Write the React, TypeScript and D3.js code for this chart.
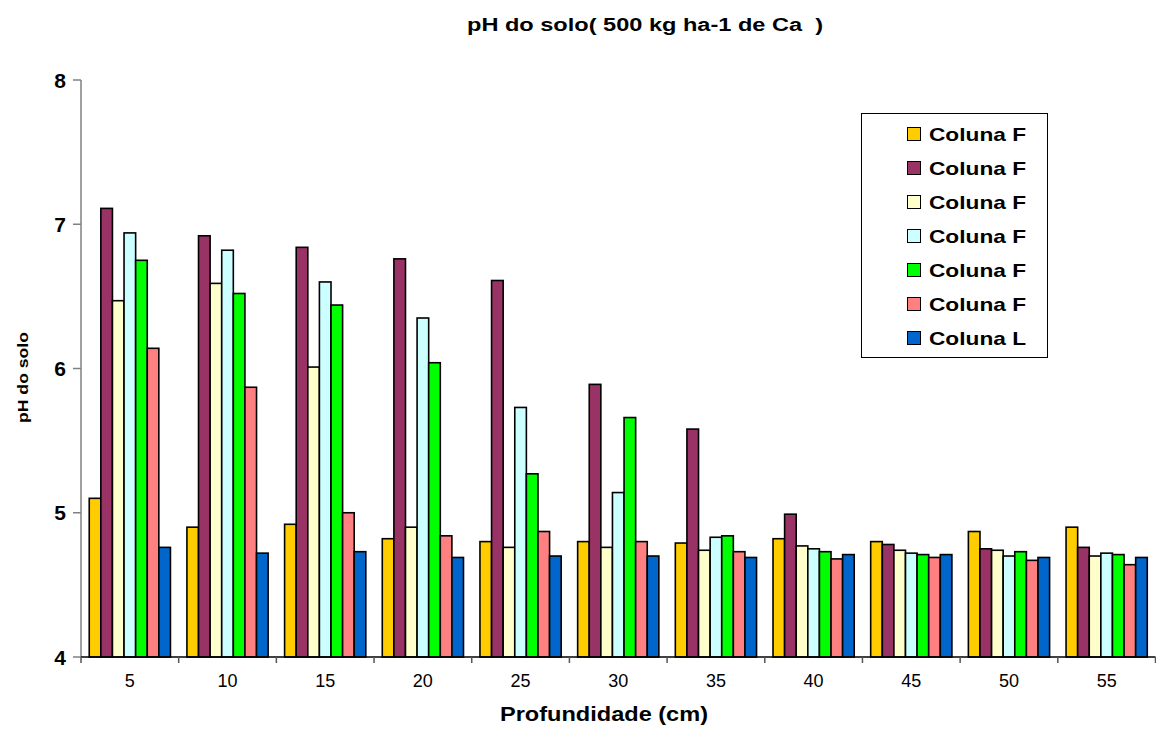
import React from "react";
import * as d3 from "d3";

const categories = ["5", "10", "15", "20", "25", "30", "35", "40", "45", "50", "55"];
const seriesNames = ["Coluna F", "Coluna F", "Coluna F", "Coluna F", "Coluna F", "Coluna F", "Coluna L"];
const seriesColors = ["#FFCC00", "#993366", "#FFFFCC", "#CCFFFF", "#00FF00", "#FF8080", "#0066CC"];

const s1 = [5.10, 4.90, 4.92, 4.82, 4.80, 4.80, 4.79, 4.82, 4.80, 4.87, 4.90];
const s2 = [7.11, 6.92, 6.84, 6.76, 6.61, 5.89, 5.58, 4.99, 4.78, 4.75, 4.76];
const s3 = [6.47, 6.59, 6.01, 4.90, 4.76, 4.76, 4.74, 4.77, 4.74, 4.74, 4.70];
const s4 = [6.94, 6.82, 6.60, 6.35, 5.73, 5.14, 4.83, 4.75, 4.72, 4.70, 4.72];
const s5 = [6.75, 6.52, 6.44, 6.04, 5.27, 5.66, 4.84, 4.73, 4.71, 4.73, 4.71];
const s6 = [6.14, 5.87, 5.00, 4.84, 4.87, 4.80, 4.73, 4.68, 4.69, 4.67, 4.64];
const s7 = [4.76, 4.72, 4.73, 4.69, 4.70, 4.70, 4.69, 4.71, 4.71, 4.69, 4.69];
const seriesValues = [s1, s2, s3, s4, s5, s6, s7];

const yTicks = [4, 5, 6, 7, 8];

const W = 1156;
const H = 730;
const plotLeft = 81;
const plotRight = 1155.5;
const plotTop = 80;
const plotBottom = 657;

export default function App() {
  const x0 = d3.scaleBand<string>().domain(categories).range([plotLeft, plotRight]).padding(0);
  const x1 = d3
    .scaleBand<number>()
    .domain(d3.range(seriesValues.length))
    .range([0, x0.bandwidth()])
    .paddingInner(0)
    .paddingOuter(0.71);
  const y = d3.scaleLinear().domain([4, 8]).range([plotBottom, plotTop]);
  const font = "Arial, 'Liberation Sans', sans-serif";
  const tickBoundaries = d3.range(categories.length + 1).map((i) => plotLeft + i * x0.step());

  return (
    <svg
      width={W}
      height={H}
      style={{ position: "absolute", left: 0, top: 0, background: "#fff" }}
      fontFamily={font}
    >
      <rect x={0} y={0} width={W} height={H} fill="#fff" />
      {/* title */}
      <text
        x={645}
        y={31}
        textAnchor="middle"
        fontSize={18}
        fontWeight="bold"
        textLength={356}
        lengthAdjust="spacingAndGlyphs"
        style={{ whiteSpace: "pre" }}
      >
        {"pH do solo( 500 kg ha-1 de Ca  )"}
      </text>

      {/* bars */}
      {seriesValues.map((vals, si) =>
        vals.map((v, ci) => (
          <rect
            key={`${si}-${ci}`}
            x={(x0(categories[ci]) as number) + (x1(si) as number)}
            y={y(v)}
            width={x1.bandwidth()}
            height={plotBottom - y(v)}
            fill={seriesColors[si]}
            stroke="#000"
            strokeWidth={1.6}
          />
        ))
      )}

      {/* y axis */}
      <line x1={plotLeft} x2={plotLeft} y1={plotTop} y2={plotBottom} stroke="#808080" strokeWidth={1.5} />
      {yTicks.map((t) => (
        <g key={t}>
          <line x1={plotLeft - 8} x2={plotLeft} y1={y(t)} y2={y(t)} stroke="#808080" strokeWidth={1.5} />
          <text x={66} y={y(t) + 7.5} textAnchor="end" fontSize={21} fontWeight="bold">
            {t}
          </text>
        </g>
      ))}

      {/* x axis */}
      <line x1={plotLeft} x2={plotRight} y1={plotBottom} y2={plotBottom} stroke="#000" strokeWidth={1.5} />
      {tickBoundaries.map((bx, i) => (
        <line key={i} x1={bx} x2={bx} y1={plotBottom} y2={plotBottom + 6} stroke="#555" strokeWidth={1.5} />
      ))}
      {categories.map((c) => (
        <text key={c} x={(x0(c) as number) + x0.bandwidth() / 2} y={687} textAnchor="middle" fontSize={18}>
          {c}
        </text>
      ))}

      {/* axis titles */}
      <text x={604} y={721} textAnchor="middle" fontSize={21} fontWeight="bold" textLength={208} lengthAdjust="spacingAndGlyphs">
        Profundidade (cm)
      </text>
      <text
        transform="translate(28,377.5) rotate(-90)"
        textAnchor="middle"
        fontSize={15}
        fontWeight="bold"
        textLength={91}
        lengthAdjust="spacingAndGlyphs"
      >
        pH do solo
      </text>

      {/* legend */}
      <rect x={861.5} y={113.5} width={186} height={244} fill="#fff" stroke="#000" strokeWidth={1} />
      {seriesNames.map((n, i) => {
        const cy = 134 + i * 34;
        return (
          <g key={i}>
            <rect x={907.5} y={cy - 6.5} width={13} height={13} fill={seriesColors[i]} stroke="#000" strokeWidth={1} />
            <text x={929} y={cy + 7} fontSize={19} fontWeight="bold" textLength={97} lengthAdjust="spacingAndGlyphs">
              {n}
            </text>
          </g>
        );
      })}
    </svg>
  );
}
